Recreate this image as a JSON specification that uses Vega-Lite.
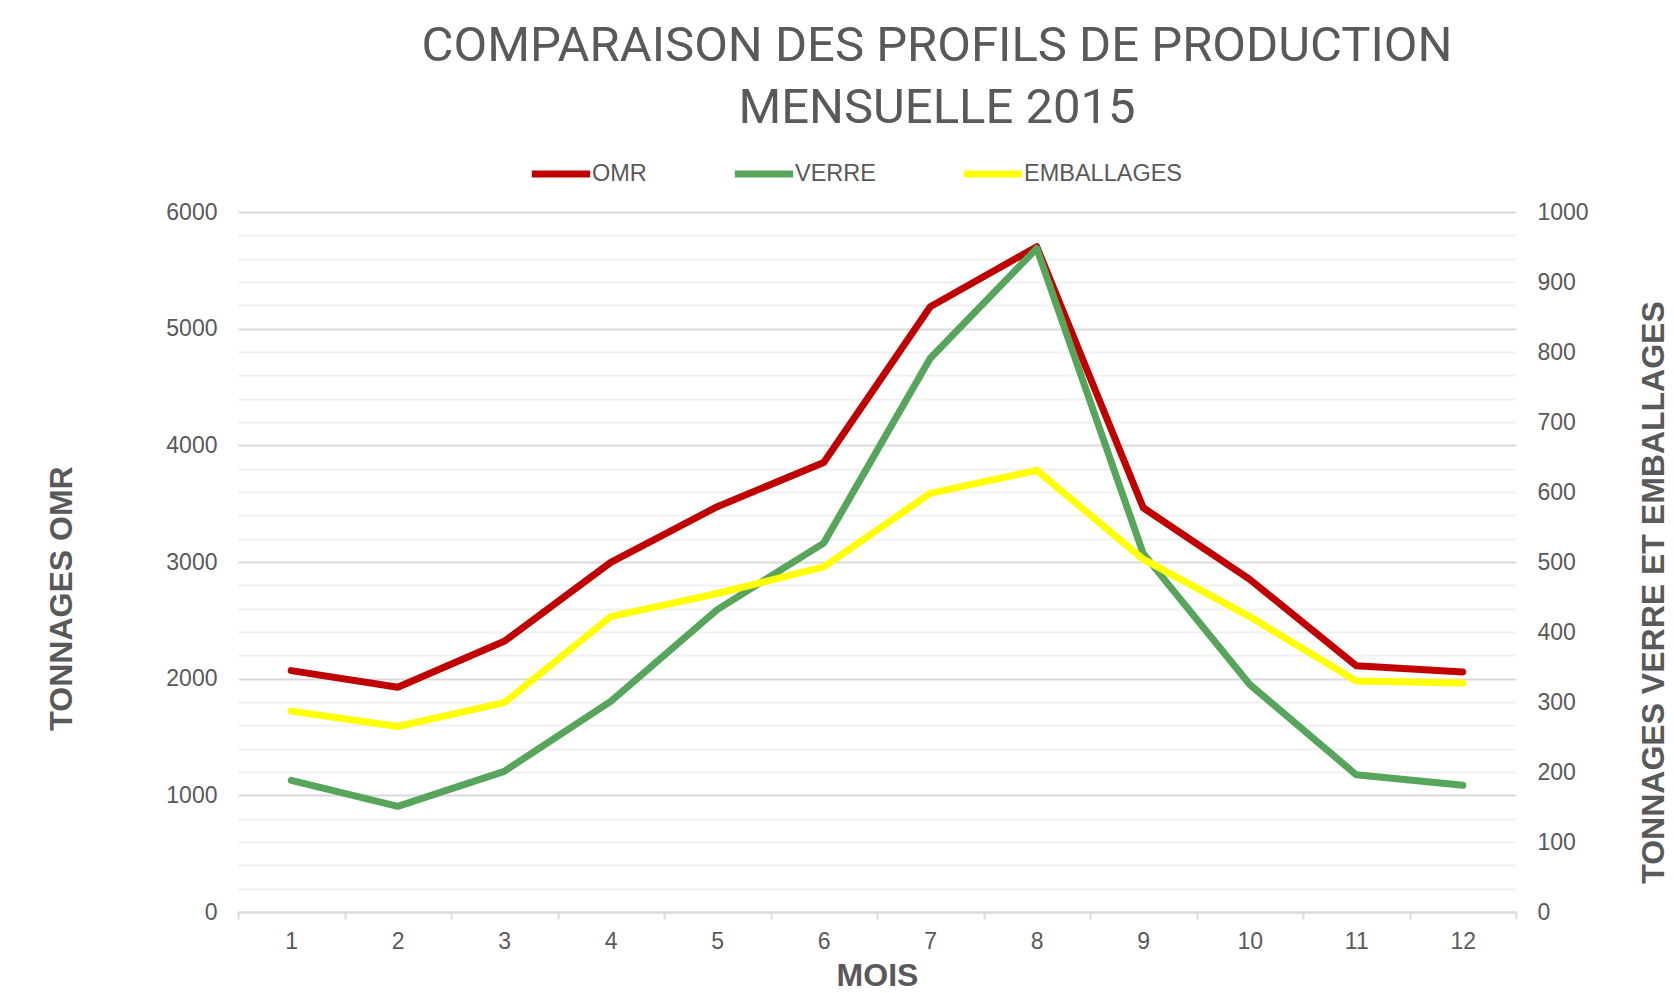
{
  "$schema": "https://vega.github.io/schema/vega-lite/v6.json",
  "width": 1278,
  "height": 700,
  "autosize": {"type": "none"},
  "padding": {"left": 238, "top": 212, "right": 158, "bottom": 81},
  "background": "white",
  "title": {
    "text": ["COMPARAISON DES PROFILS DE PRODUCTION", "MENSUELLE 2015"],
    "font": "Roboto",
    "fontSize": 49,
    "fontWeight": "normal",
    "color": "#595959",
    "anchor": "middle",
    "frame": "group",
    "dx": 60,
    "lineHeight": 62,
    "offset": 8
  },
  "config": {"view": {"stroke": null}},
  "data": {
    "values": [
      {"mois": 1, "serie": "OMR", "valeur": 2069},
      {"mois": 2, "serie": "OMR", "valeur": 1926},
      {"mois": 3, "serie": "OMR", "valeur": 2320},
      {"mois": 4, "serie": "OMR", "valeur": 2997},
      {"mois": 5, "serie": "OMR", "valeur": 3474},
      {"mois": 6, "serie": "OMR", "valeur": 3853},
      {"mois": 7, "serie": "OMR", "valeur": 5188},
      {"mois": 8, "serie": "OMR", "valeur": 5702},
      {"mois": 9, "serie": "OMR", "valeur": 3465},
      {"mois": 10, "serie": "OMR", "valeur": 2851},
      {"mois": 11, "serie": "OMR", "valeur": 2111},
      {"mois": 12, "serie": "OMR", "valeur": 2058},
      {"mois": 1, "serie": "VERRE", "valeur": 188},
      {"mois": 2, "serie": "VERRE", "valeur": 151},
      {"mois": 3, "serie": "VERRE", "valeur": 201},
      {"mois": 4, "serie": "VERRE", "valeur": 301},
      {"mois": 5, "serie": "VERRE", "valeur": 432},
      {"mois": 6, "serie": "VERRE", "valeur": 527},
      {"mois": 7, "serie": "VERRE", "valeur": 791},
      {"mois": 8, "serie": "VERRE", "valeur": 948},
      {"mois": 9, "serie": "VERRE", "valeur": 512},
      {"mois": 10, "serie": "VERRE", "valeur": 325},
      {"mois": 11, "serie": "VERRE", "valeur": 196},
      {"mois": 12, "serie": "VERRE", "valeur": 181},
      {"mois": 1, "serie": "EMBALLAGES", "valeur": 287},
      {"mois": 2, "serie": "EMBALLAGES", "valeur": 265},
      {"mois": 3, "serie": "EMBALLAGES", "valeur": 299},
      {"mois": 4, "serie": "EMBALLAGES", "valeur": 422},
      {"mois": 5, "serie": "EMBALLAGES", "valeur": 455},
      {"mois": 6, "serie": "EMBALLAGES", "valeur": 493},
      {"mois": 7, "serie": "EMBALLAGES", "valeur": 598},
      {"mois": 8, "serie": "EMBALLAGES", "valeur": 631},
      {"mois": 9, "serie": "EMBALLAGES", "valeur": 504},
      {"mois": 10, "serie": "EMBALLAGES", "valeur": 422},
      {"mois": 11, "serie": "EMBALLAGES", "valeur": 330},
      {"mois": 12, "serie": "EMBALLAGES", "valeur": 327}
    ]
  },
  "encoding": {
    "x": {
      "field": "mois",
      "type": "ordinal",
      "scale": {"type": "band", "paddingInner": 0, "paddingOuter": 0},
      "axis": {
        "title": "MOIS",
        "titleFont": "Liberation Sans",
        "titleFontSize": 32,
        "titleFontWeight": "bold",
        "titleColor": "#595959",
        "titleY": 63,
        "titleBaseline": "middle",
        "labelAngle": 0,
        "labelFont": "Liberation Sans",
        "labelFontSize": 23,
        "labelColor": "#595959",
        "labelPadding": 11,
        "tickBand": "extent",
        "tickColor": "#D9D9D9",
        "tickSize": 7,
        "tickWidth": 2,
        "domainColor": "#D9D9D9",
        "domainWidth": 2,
        "grid": false
      }
    },
    "color": {
      "field": "serie",
      "type": "nominal",
      "scale": {"domain": ["OMR", "VERRE", "EMBALLAGES"], "range": ["#C00000", "#57A55A", "#FFFF00"]},
      "legend": {
        "orient": "none",
        "legendX": 290,
        "legendY": -71,
        "direction": "horizontal",
        "title": null,
        "symbolType": "stroke",
        "symbolSize": 3400,
        "symbolStrokeWidth": 7,
        "labelFont": "Liberation Sans",
        "labelFontSize": 23.5,
        "labelColor": "#595959",
        "labelOffset": -2,
        "columnPadding": 73
      }
    }
  },
  "layer": [
    {
      "transform": [{"filter": "datum.serie === 'OMR'"}],
      "mark": {"type": "line", "strokeWidth": 7, "strokeCap": "round", "strokeJoin": "round"},
      "encoding": {
        "y": {
          "field": "valeur",
          "type": "quantitative",
          "scale": {"domain": [0, 6000], "nice": false},
          "axis": {
            "title": "TONNAGES OMR",
            "titleFont": "Liberation Sans",
            "titleFontSize": 32,
            "titleFontWeight": "bold",
            "titleColor": "#595959",
            "titleAngle": 270,
            "titleX": -177,
            "titleY": 386,
            "titleAlign": "center",
            "titleBaseline": "middle",
            "values": [0, 200, 400, 600, 800, 1000, 1200, 1400, 1600, 1800, 2000, 2200, 2400, 2600, 2800, 3000, 3200, 3400, 3600, 3800, 4000, 4200, 4400, 4600, 4800, 5000, 5200, 5400, 5600, 5800, 6000],
            "format": "d",
            "labelExpr": "datum.value % 1000 === 0 ? datum.label : ''",
            "labelFont": "Liberation Sans",
            "labelFontSize": 23,
            "labelColor": "#595959",
            "labelPadding": 21,
            "ticks": false,
            "tickSize": 0,
            "domain": false,
            "grid": true,
            "gridWidth": 2,
            "gridColor": {"condition": {"test": "datum.value % 1000 === 0", "value": "#D9D9D9"}, "value": "#F0F0F0"}
          }
        }
      }
    },
    {
      "transform": [{"filter": "datum.serie !== 'OMR'"}],
      "mark": {"type": "line", "strokeWidth": 7, "strokeCap": "round", "strokeJoin": "round"},
      "encoding": {
        "y": {
          "field": "valeur",
          "type": "quantitative",
          "scale": {"domain": [0, 1000], "nice": false},
          "axis": {
            "orient": "right",
            "title": "TONNAGES VERRE ET EMBALLAGES",
            "titleFont": "Liberation Sans",
            "titleFontSize": 32,
            "titleFontWeight": "bold",
            "titleColor": "#595959",
            "titleAngle": 270,
            "titleX": 137,
            "titleY": 380,
            "titleAlign": "center",
            "titleBaseline": "middle",
            "values": [0, 100, 200, 300, 400, 500, 600, 700, 800, 900, 1000],
            "format": "d",
            "labelFont": "Liberation Sans",
            "labelFontSize": 23,
            "labelColor": "#595959",
            "labelPadding": 21,
            "ticks": false,
            "tickSize": 0,
            "domain": false,
            "grid": false
          }
        }
      }
    }
  ],
  "resolve": {"scale": {"y": "independent"}}
}
